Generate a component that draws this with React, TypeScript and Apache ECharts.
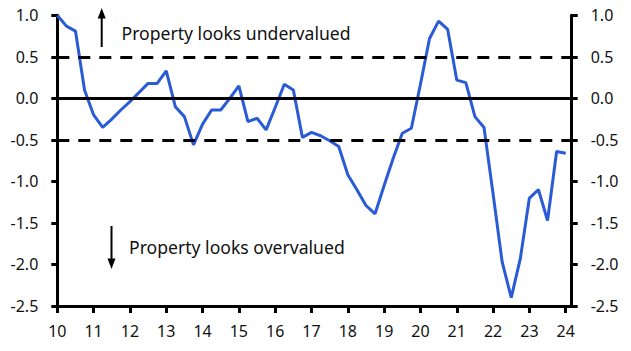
import React, { useEffect, useRef } from "react";
import * as echarts from "echarts";

const startYear = 10;
const valuations: number[] = [
  1.0, 0.87, 0.81, 0.1,
  -0.2, -0.35, -0.25, -0.14,
  -0.04, 0.07, 0.18, 0.18,
  0.33, -0.1, -0.22, -0.56,
  -0.31, -0.14, -0.14, 0.0,
  0.15, -0.28, -0.24, -0.38,
  -0.11, 0.17, 0.1, -0.47,
  -0.41, -0.45, -0.51, -0.58,
  -0.92, -1.1, -1.29, -1.39,
  -1.05, -0.72, -0.42, -0.36,
  0.17, 0.72, 0.93, 0.83,
  0.22, 0.19, -0.22, -0.35,
  -1.15, -1.97, -2.4, -1.93,
  -1.2, -1.1, -1.47, -0.64,
  -0.66,
];
const yearTicks: number[] = [10, 11, 12, 13, 14, 15, 16, 17, 18, 19, 20, 21, 22, 23, 24];
const thresholds: number[] = [0.5, -0.5];
const upText = "Property looks undervalued";
const downText = "Property looks overvalued";

const FONT = "Noto Sans";

export default function App() {
  const ref = useRef<HTMLDivElement>(null);
  useEffect(() => {
    if (!ref.current) return;
    const chart = echarts.init(ref.current, undefined, { renderer: "svg" });
    const data = valuations.map((v, i) => [startYear + i * 0.25, v]);
    const yAxisCommon = {
      type: "value" as const,
      min: -2.5,
      max: 1.0,
      interval: 0.5,
      axisLine: { show: true, lineStyle: { color: "#000", width: 3 } },
      axisTick: { show: true, length: 6, lineStyle: { color: "#000", width: 3 } },
      axisLabel: {
        color: "#111",
        fontSize: 16,
        fontFamily: FONT,
        margin: 19,
        formatter: (v: number) => v.toFixed(1),
      },
      splitLine: { show: false },
    };
    chart.setOption({
      animation: false,
      grid: { left: 57.3, right: 59.3, top: 15.3, bottom: 45, containLabel: false },
      xAxis: {
        type: "value",
        min: 10,
        max: 24.165,
        interval: 1,
        axisLine: { show: true, onZero: false, lineStyle: { color: "#000", width: 3 } },
        axisTick: { show: true, length: 7, customValues: yearTicks, lineStyle: { color: "#000", width: 3 } },
        axisLabel: {
          color: "#111",
          fontSize: 16,
          fontFamily: FONT,
          margin: 17,
          customValues: yearTicks,
          formatter: (v: number) => String(Math.round(v)),
        },
        splitLine: { show: false },
      },
      yAxis: [
        { ...yAxisCommon, position: "left" },
        { ...yAxisCommon, position: "right" },
      ],
      series: [
        {
          type: "line",
          data: [],
          z: 1,
          markLine: {
            silent: true,
            symbol: "none",
            label: { show: false },
            data: [
              { yAxis: 0, lineStyle: { color: "#000", width: 3, type: "solid" } },
              ...thresholds.map((t) => ({
                yAxis: t,
                lineStyle: { color: "#000", width: 3, type: [12, 9] as any },
              })),
            ],
          },
        },
        {
          type: "line",
          data,
          z: 3,
          symbol: "none",
          lineStyle: { color: "#2A5BD7", width: 3 },
        },
      ],
      graphic: [
        { type: "line", shape: { x1: 101.7, y1: 47, x2: 101.7, y2: 16 }, style: { stroke: "#000", lineWidth: 2 } },
        { type: "polygon", shape: { points: [[97.7, 18.5], [105.7, 18.5], [101.7, 8]] }, style: { fill: "#000" } },
        { type: "line", shape: { x1: 111.5, y1: 226, x2: 111.5, y2: 260 }, style: { stroke: "#000", lineWidth: 2 } },
        { type: "polygon", shape: { points: [[107.5, 258.5], [115.5, 258.5], [111.5, 269]] }, style: { fill: "#000" } },
        {
          type: "text",
          x: 121.5,
          y: 33,
          style: { text: upText, fill: "#111", fontSize: 17.6, fontFamily: FONT, verticalAlign: "middle", align: "left" },
        },
        {
          type: "text",
          x: 129,
          y: 247,
          style: { text: downText, fill: "#111", fontSize: 17.6, fontFamily: FONT, verticalAlign: "middle", align: "left" },
        },
      ],
    });
    return () => chart.dispose();
  }, []);
  return (
    <div
      ref={ref}
      style={{ position: "fixed", left: 0, top: 0, width: 631, height: 351, background: "#fff" }}
    />
  );
}
